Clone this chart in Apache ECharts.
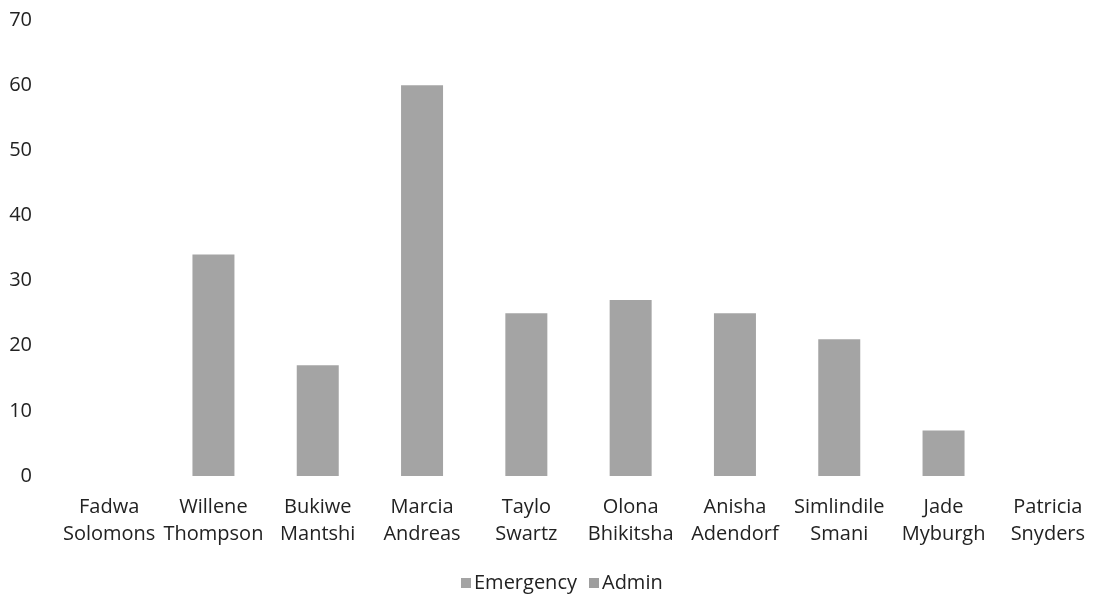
<!DOCTYPE html>
<html>
<head>
<meta charset="utf-8">
<script src="https://cdn.jsdelivr.net/npm/echarts@6/dist/echarts.min.js"></script>
<style>
html,body{margin:0;padding:0;background:#fff;}
#chart{width:1100px;height:596px;}
</style>
</head>
<body>
<div id="chart"></div>
<script>
const categories = [
  "Fadwa\nSolomons", "Willene\nThompson", "Bukiwe\nMantshi", "Marcia\nAndreas",
  "Taylo\nSwartz", "Olona\nBhikitsha", "Anisha\nAdendorf", "Simlindile\nSmani",
  "Jade\nMyburgh", "Patricia\nSnyders"
];
const emergency = [0, 34, 17, 60, 25, 27, 25, 21, 7, 0];
const admin = [null, null, null, null, null, null, null, null, null, null];
const yTicks = { min: 0, max: 70, interval: 10 };

const chart = echarts.init(document.getElementById('chart'), null, { renderer: 'canvas' });
const font = "'Open Sans', 'Noto Sans', sans-serif";
chart.setOption({
  animation: false,
  backgroundColor: '#ffffff',
  grid: { left: 57, top: 20, width: 1054, bottom: 120, containLabel: false },
  legend: {
    data: ['Emergency', 'Admin'],
    left: 456, top: 568,
    itemWidth: 10, itemHeight: 10, itemGap: 12,
    icon: 'rect',
    textStyle: { fontFamily: font, fontSize: 20, color: '#222222', padding: [0, 0, 0, -2] }
  },
  xAxis: {
    type: 'category',
    data: categories,
    axisLine: { show: false },
    axisTick: { show: false },
    axisLabel: {
      interval: 0, margin: 18,
      fontFamily: font, fontSize: 20, lineHeight: 27, color: '#222222'
    }
  },
  yAxis: {
    type: 'value',
    min: yTicks.min, max: yTicks.max, interval: yTicks.interval,
    axisLine: { show: false },
    axisTick: { show: false },
    splitLine: { show: false },
    axisLabel: { margin: 25, fontFamily: font, fontSize: 20, color: '#222222' }
  },
  series: [
    {
      name: 'Emergency', type: 'bar', data: emergency,
      barWidth: 42, barGap: '-100%',
      itemStyle: { color: '#a4a4a4' }
    },
    {
      name: 'Admin', type: 'bar', data: admin,
      barWidth: 42,
      itemStyle: { color: '#9e9e9e' }
    }
  ]
});
</script>
</body>
</html>
